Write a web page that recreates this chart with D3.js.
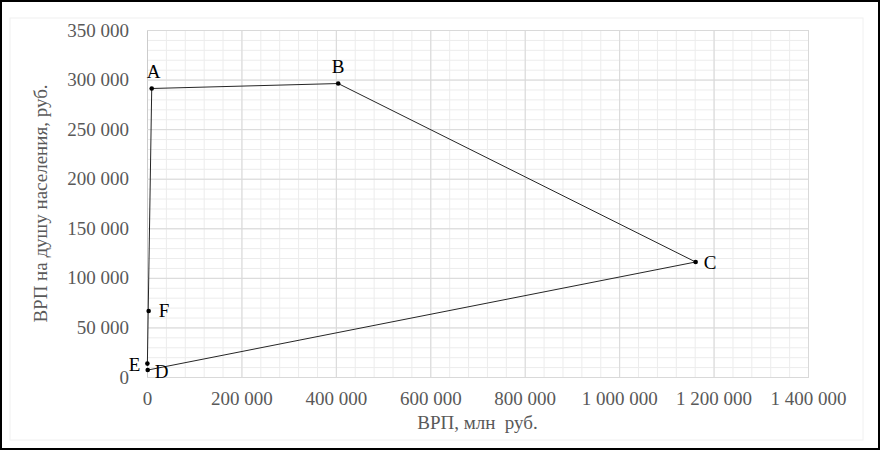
<!DOCTYPE html>
<html>
<head>
<meta charset="utf-8">
<script src="https://cdn.jsdelivr.net/npm/d3@7"></script>
<style>
	html, body { margin: 0; padding: 0; background: #fff; }
	svg { display: block; font-family: 'Liberation Serif', 'Times New Roman', serif; }
</style>
</head>
<body>
<div id="chart"></div>
<script>
'use strict';

// regions: name, GRP (mln rub), GRP per capita (rub)
let names = ['A', 'B', 'C', 'D', 'E', 'F'];
let grp = [10000, 405000, 1162000, 1500, 800, 3500];
let grp_pc = [291000, 296000, 116000, 7000, 13500, 66500];
// order in which the outline is drawn
let path_order = ['E', 'A', 'B', 'C', 'D'];

let x_ticks = [0, 200000, 400000, 600000, 800000, 1000000, 1200000, 1400000];
let y_ticks = [0, 50000, 100000, 150000, 200000, 250000, 300000, 350000];
let x_title = 'ВРП, млн  руб.';
let y_title = 'ВРП на душу населения, руб.';

const W = 880, H = 450;
const m = {left: 147, right: 72, top: 30, bottom: 73};

function fmt(v) {
	if (v === 0) {
		return '0';
	}
	return d3.format(',')(v).replace(/,/g, ' ');
}

let svg = d3.select('#chart')
	.append('svg')
		.attr('width', W)
		.attr('height', H)
	;

svg.append('rect')
	.attr('x', 10).attr('y', 18).attr('width', 853).attr('height', 422)
	.attr('fill', 'none').attr('stroke', '#f0f0f0')
	;

let x = d3.scaleLinear().domain([0, 1400000]).range([m.left, W - m.right]);
let y = d3.scaleLinear().domain([0, 350000]).range([H - m.bottom, m.top]);

// minor grid
let grid = svg.append('g').classed('grid', true);
grid.append('g')
	.attr('transform', 'translate(0,' + (H - m.bottom) + ')')
	.call(d3.axisBottom(x).tickValues(d3.range(0, 1400001, 40000)).tickSize(-(H - m.bottom - m.top)).tickFormat(''))
	.call(g => g.select('.domain').remove())
	.call(g => g.selectAll('line').attr('stroke', '#ececec'))
	;
grid.append('g')
	.attr('transform', 'translate(' + m.left + ',0)')
	.call(d3.axisLeft(y).tickValues(d3.range(0, 350001, 10000)).tickSize(-(W - m.right - m.left)).tickFormat(''))
	.call(g => g.select('.domain').remove())
	.call(g => g.selectAll('line').attr('stroke', '#ececec'))
	;

// major grid + labels
let xa = svg.append('g')
	.attr('transform', 'translate(0,' + (H - m.bottom) + ')')
	.call(d3.axisBottom(x).tickValues(x_ticks).tickSize(-(H - m.bottom - m.top)).tickPadding(15).tickFormat(fmt))
	;
xa.select('.domain').attr('stroke', '#cccccc');
xa.selectAll('line').attr('stroke', '#d9d9d9');
xa.selectAll('text').attr('fill', '#595959').attr('font-size', '19px').attr('font-family', 'Liberation Serif');

let ya = svg.append('g')
	.attr('transform', 'translate(' + m.left + ',0)')
	.call(d3.axisLeft(y).tickValues(y_ticks).tickSize(-(W - m.right - m.left)).tickPadding(18).tickFormat(fmt))
	;
ya.select('.domain').attr('stroke', '#cccccc');
ya.selectAll('line').attr('stroke', '#d9d9d9');
ya.selectAll('text').attr('fill', '#595959').attr('font-size', '19px').attr('font-family', 'Liberation Serif');

svg.append('text')
	.attr('x', (m.left + W - m.right) / 2)
	.attr('y', 429)
	.attr('text-anchor', 'middle')
	.attr('fill', '#595959')
	.attr('font-size', '19px')
	.style('white-space', 'pre')
	.text(x_title)
	;
svg.append('text')
	.attr('transform', 'translate(47,' + ((m.top + H - m.bottom) / 2) + ') rotate(-90)')
	.attr('text-anchor', 'middle')
	.attr('fill', '#595959')
	.attr('font-size', '19px')
	.text(y_title)
	;

// data
let pts = names.map((n, i) => ({name: n, x: grp[i], y: grp_pc[i]}));
let byName = {};
pts.forEach(p => { byName[p.name] = p; });

let line = d3.line().x(d => x(d.x)).y(d => y(d.y));
svg.append('path')
	.datum(path_order.map(n => byName[n]))
	.attr('d', line)
	.attr('fill', 'none')
	.attr('stroke', '#262626')
	.attr('stroke-width', 1)
	;

svg.append('g').selectAll('circle')
	.data(pts)
	.join('circle')
		.attr('cx', d => x(d.x))
		.attr('cy', d => y(d.y))
		.attr('r', 2.3)
		.attr('fill', '#000')
	;

// label placement (dx, dy, anchor)
let place = {
	A: [-5, -10, 'start'],
	B: [0, -11, 'middle'],
	C: [8, 7, 'start'],
	D: [7, 8, 'start'],
	E: [-7, 7, 'end'],
	F: [10, 6, 'start']
};
svg.append('g').selectAll('text')
	.data(pts)
	.join('text')
		.attr('x', d => x(d.x) + place[d.name][0])
		.attr('y', d => y(d.y) + place[d.name][1])
		.attr('text-anchor', d => place[d.name][2])
		.attr('font-size', '19px')
		.attr('fill', '#000')
		.text(d => d.name)
	;

// outer frame
svg.append('rect')
	.attr('x', 1).attr('y', 1).attr('width', W - 2).attr('height', H - 2)
	.attr('fill', 'none').attr('stroke', '#000').attr('stroke-width', 2)
	;
</script>
</body>
</html>
